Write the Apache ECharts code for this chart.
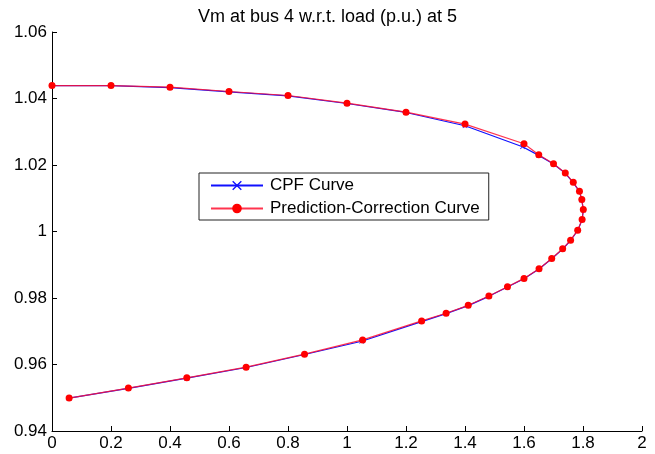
<!DOCTYPE html>
<html lang="en">
<head>
<meta charset="UTF-8">
<title>Vm at bus 4</title>
<style>
  html, body { margin: 0; padding: 0; background: #fff; }
  #main { width: 655px; height: 454px; }
</style>
</head>
<body>
<div id="main"></div>
<script src="https://cdn.jsdelivr.net/npm/echarts@6/dist/echarts.min.js"></script>
<script>
// Prediction-Correction curve (red dots)
var pcX = [0, 0.2, 0.4, 0.6, 0.8, 1.0, 1.2, 1.4, 1.6, 1.65, 1.70, 1.74, 1.767, 1.788, 1.796, 1.801,
  1.797, 1.782, 1.758, 1.731, 1.694, 1.651, 1.6, 1.544, 1.481, 1.411, 1.336, 1.253, 1.053, 0.856,
  0.658, 0.457, 0.259, 0.058];
var pcY = [1.0439, 1.0439, 1.0434, 1.0421, 1.0409, 1.0386, 1.0359, 1.0323, 1.0264, 1.0231, 1.0204,
  1.0176, 1.0148, 1.0121, 1.0096, 1.0066, 1.0036, 1.0004, 0.9974, 0.9948, 0.9919, 0.9888, 0.9859,
  0.9834, 0.9806, 0.9778, 0.9754, 0.9731, 0.9674, 0.9631, 0.9592, 0.9560, 0.9529, 0.9499];

// CPF curve (blue crosses)
var cpfX = [0, 0.2, 0.4, 0.6, 0.8, 1.0, 1.2, 1.4, 1.595, 1.65, 1.70, 1.74, 1.767, 1.788, 1.796, 1.801,
  1.797, 1.782, 1.758, 1.731, 1.694, 1.651, 1.6, 1.544, 1.481, 1.411, 1.336, 1.253, 1.05, 0.856,
  0.658, 0.457, 0.259, 0.058];
var cpfY = [1.0439, 1.0439, 1.0433, 1.0420, 1.0408, 1.0385, 1.0358, 1.0318, 1.0255, 1.0229, 1.0203,
  1.0175, 1.0147, 1.0120, 1.0095, 1.0065, 1.0035, 1.0003, 0.9973, 0.9947, 0.9918, 0.9887, 0.9858,
  0.9833, 0.9805, 0.9777, 0.9753, 0.9729, 0.9670, 0.9630, 0.9591, 0.9559, 0.9528, 0.9499];

var titleText = 'Vm at bus 4 w.r.t. load (p.u.) at 5';
var seriesNames = ['CPF Curve', 'Prediction-Correction Curve'];

function pairs(xs, ys) {
  var out = [];
  for (var i = 0; i < xs.length; i++) out.push([xs[i], ys[i]]);
  return out;
}

var crossPath = 'path://M0,1L1,0L5,4L9,0L10,1L6,5L10,9L9,10L5,6L1,10L0,9L4,5Z';
var font = 'Liberation Sans, Arial, sans-serif';

var myChart = echarts.init(document.getElementById('main'));
var option = {
  animation: false,
  backgroundColor: '#fff',
  textStyle: { fontFamily: font },
  title: {
    text: titleText,
    left: 'center',
    top: 3,
    textStyle: { fontFamily: font, fontSize: 18, fontWeight: 'normal', color: '#000' }
  },
  legend: {
    orient: 'vertical',
    left: 199,
    top: 173,
    padding: [4, 9, 3, 11],
    itemGap: 6,
    itemWidth: 52,
    itemHeight: 12,
    borderColor: '#222',
    borderWidth: 1,
    backgroundColor: '#fff',
    textStyle: { fontFamily: font, fontSize: 17, color: '#000', padding: [0, 0, 0, 2] },
    data: seriesNames
  },
  grid: { left: 52, right: 13, top: 32, bottom: 23, containLabel: false },
  xAxis: {
    type: 'value',
    min: 0,
    max: 2,
    interval: 0.2,
    axisLine: { lineStyle: { color: '#000', width: 1 } },
    axisTick: { inside: true, length: 5, lineStyle: { color: '#000' } },
    axisLabel: { color: '#000', fontSize: 17, fontFamily: font, margin: 4 },
    splitLine: { show: false }
  },
  yAxis: {
    type: 'value',
    min: 0.94,
    max: 1.06,
    interval: 0.02,
    axisLine: { show: true, lineStyle: { color: '#000', width: 1 } },
    axisTick: { show: true, inside: true, length: 5, lineStyle: { color: '#000' } },
    axisLabel: { color: '#000', fontSize: 17, fontFamily: font, margin: 5 },
    splitLine: { show: false }
  },
  series: [
    {
      name: seriesNames[0],
      type: 'line',
      data: pairs(cpfX, cpfY),
      symbol: crossPath,
      symbolSize: 5,
      showAllSymbol: true,
      itemStyle: { color: '#1010ff' },
      lineStyle: { color: '#1010ff', width: 1.2 },
      z: 2
    },
    {
      name: seriesNames[1],
      type: 'line',
      data: pairs(pcX, pcY),
      symbol: 'circle',
      symbolSize: 7,
      showAllSymbol: true,
      itemStyle: { color: '#ff0000' },
      lineStyle: { color: '#ff1030', width: 1.2, opacity: 0.85 },
      z: 3
    }
  ]
};
myChart.setOption(option);
</script>
</body>
</html>
